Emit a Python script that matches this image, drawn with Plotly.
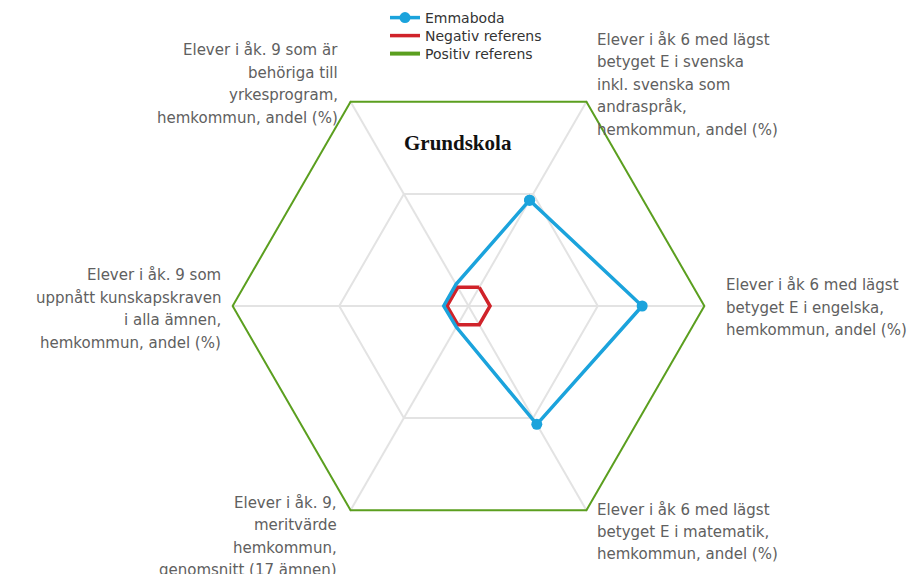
import plotly.graph_objects as go

# Axes of the radar, clockwise from the upper-right spoke
categories = [
    "Elever i åk 6 med lägst betyget E i svenska inkl. svenska som andraspråk, hemkommun, andel (%)",
    "Elever i åk 6 med lägst betyget E i engelska, hemkommun, andel (%)",
    "Elever i åk 6 med lägst betyget E i matematik, hemkommun, andel (%)",
    "Elever i åk. 9, meritvärde hemkommun, genomsnitt (17 ämnen)",
    "Elever i åk. 9 som uppnått kunskapskraven i alla ämnen, hemkommun, andel (%)",
    "Elever i åk. 9 som är behöriga till yrkesprogram, hemkommun, andel (%)",
]

# Wrapped axis labels as drawn around the chart
label_lines = [
    ["Elever i åk 6 med lägst", "betyget E i svenska", "inkl. svenska som", "andraspråk,", "hemkommun, andel (%)"],
    ["Elever i åk 6 med lägst", "betyget E i engelska,", "hemkommun, andel (%)"],
    ["Elever i åk 6 med lägst", "betyget E i matematik,", "hemkommun, andel (%)"],
    ["Elever i åk. 9,", "meritvärde", "hemkommun,", "genomsnitt (17 ämnen)"],
    ["Elever i åk. 9 som", "uppnått kunskapskraven", "i alla ämnen,", "hemkommun, andel (%)"],
    ["Elever i åk. 9 som är", "behöriga till", "yrkesprogram,", "hemkommun, andel (%)"],
]

# Normalised scores: negative reference = 0, positive reference = 1
emmaboda = [0.467, 0.706, 0.534, 0.013, 0.015, 0.016]
negativ_referens = [0, 0, 0, 0, 0, 0]
positiv_referens = [1, 1, 1, 1, 1, 1]

W, H = 913, 574
cx, cy, R = 468.5, 306.0, 237.0


def closed(values):
    return list(values) + [values[0]]


theta = closed(categories)

fig = go.Figure()
fig.add_trace(go.Scatterpolar(
    r=closed(positiv_referens), theta=theta, mode="lines",
    name="Positiv referens", line=dict(color="#5b9f1f", width=4),
    legend="legend3",
))
fig.add_trace(go.Scatterpolar(
    r=closed(negativ_referens), theta=theta, mode="lines",
    name="Negativ referens", line=dict(color="#d0232a", width=3.5),
    legend="legend2",
))
fig.add_trace(go.Scatterpolar(
    r=closed(emmaboda), theta=theta, mode="lines+markers",
    name="Emmaboda", line=dict(color="#1ba3dc", width=3.5),
    marker=dict(color="#1ba3dc", size=11),
    legend="legend",
))

# Axis labels: one annotation per line, anchored toward the chart
label_layout = [
    # (x, first line y, spacing, side)
    (595, 40, 22.5, "left"),
    (724, 285, 22.5, "left"),
    (595, 510, 22.0, "left"),
    (339, 503, 22.4, "right"),
    (223, 275, 22.5, "right"),
    (340, 50, 22.5, "right"),
]
annotations = []
for lines, (x, y0, dy, side) in zip(label_lines, label_layout):
    for i, line in enumerate(lines):
        annotations.append(dict(
            text=line, x=x / W, y=1 - (y0 + i * dy) / H,
            xref="paper", yref="paper", showarrow=False,
            xanchor=side, yanchor="middle", align=side,
            font=dict(family="DejaVu Sans", size=15, color="#606060"),
        ))

annotations.append(dict(
    text="<b>Grundskola</b>", x=458 / W, y=1 - 143 / H,
    xref="paper", yref="paper", showarrow=False,
    xanchor="center", yanchor="middle",
    font=dict(family="Liberation Serif", size=21, color="#111111"),
))

legend_font = dict(family="DejaVu Sans", size=14, color="#333333")
legend_rows = {"legend": 18, "legend2": 36, "legend3": 54}
legends = {
    key: dict(
        x=385 / W, y=1 - yy / H, xanchor="left", yanchor="middle",
        font=legend_font, bgcolor="rgba(0,0,0,0)",
    )
    for key, yy in legend_rows.items()
}

fig.update_layout(
    width=W, height=H,
    margin=dict(l=0, r=0, t=0, b=0),
    paper_bgcolor="white",
    plot_bgcolor="white",
    showlegend=True,
    polar=dict(
        domain=dict(x=[(cx - R) / W, (cx + R) / W],
                    y=[1 - (cy + R) / H, 1 - (cy - R) / H]),
        bgcolor="white",
        gridshape="linear",
        radialaxis=dict(
            range=[-0.1, 1], tickvals=[0.5, 1], showticklabels=False,
            ticks="", showline=False, gridcolor="#e3e3e3", gridwidth=1.5,
        ),
        angularaxis=dict(
            rotation=60, direction="clockwise", showticklabels=False,
            ticks="", showline=False, gridcolor="#e3e3e3", gridwidth=1.5,
        ),
    ),
    annotations=annotations,
    **legends,
)

fig.write_html("out.html")
